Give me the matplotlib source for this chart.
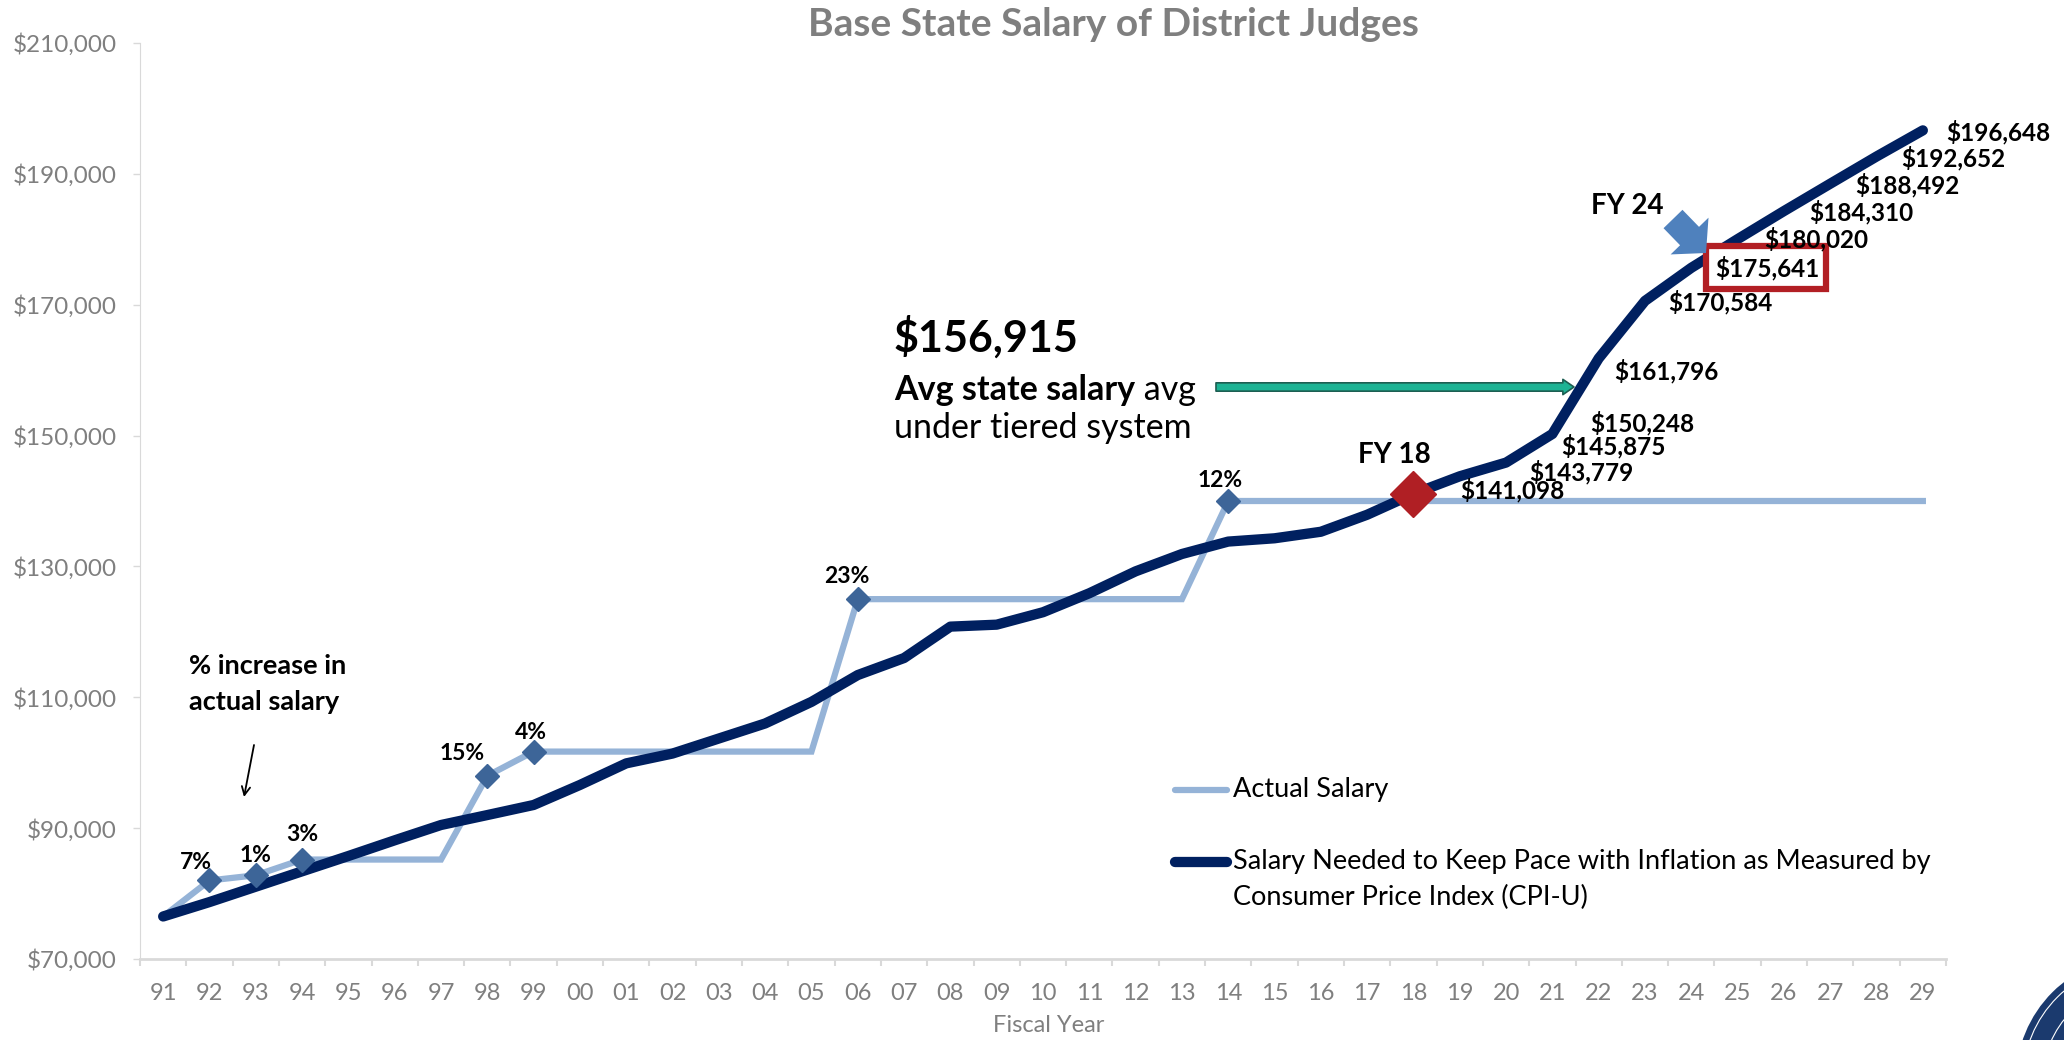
import numpy as np
import matplotlib
matplotlib.use('Agg')
import matplotlib.pyplot as plt
from matplotlib.lines import Line2D
from matplotlib.patches import Rectangle, Circle

plt.rcParams['font.family'] = ['Lato', 'DejaVu Sans']

# ---- data ----
years = ['91', '92', '93', '94', '95', '96', '97', '98', '99',
         '00', '01', '02', '03', '04', '05', '06', '07', '08', '09',
         '10', '11', '12', '13', '14', '15', '16', '17', '18', '19',
         '20', '21', '22', '23', '24', '25', '26', '27', '28', '29']

actual_salary = [76500, 82000, 82800, 85200, 85200, 85200, 85200, 98000, 101700,
                 101700, 101700, 101700, 101700, 101700, 101700, 125000, 125000, 125000, 125000,
                 125000, 125000, 125000, 125000, 140000, 140000, 140000, 140000, 140000, 140000,
                 140000, 140000, 140000, 140000, 140000, 140000, 140000, 140000, 140000, 140000]

cpi_salary = [76500, 78700, 81050, 83400, 85740, 88140, 90480, 92000, 93540,
              96600, 99900, 101400, 103700, 106000, 109300, 113400, 116000, 120800, 121100,
              123000, 125900, 129250, 131900, 133800, 134300, 135300, 137900, 141098, 143779,
              145875, 150248, 161796, 170584, 175641, 180020, 184310, 188492, 192652, 196648]

raise_years = ['92', '93', '94', '98', '99', '06', '14']
raise_pct = ['7%', '1%', '3%', '15%', '4%', '23%', '12%']

labelled_years = ['18', '19', '20', '21', '22', '23', '24', '25', '26', '27', '28', '29']
avg_tiered = 156915

# label offsets in points (dx, dy)
pct_off = [(-10, 13), (0, 14), (0, 18), (-18, 16), (-2, 14), (-8, 16), (-6, 15)]
val_off = [(34, 3), (50, 3), (40, 12), (27, 8), (11, -9), (17, -1),
           (17, 0), (19, 0), (18, -1), (18, -1), (18, -1), (17, -1)]

LIGHT = '#95B3D7'
NAVY = '#002060'
DIAMOND = '#3D6598'
GRAY = '#7F7F7F'

W, H = 2064, 1040
fig = plt.figure(figsize=(W / 100, H / 100), dpi=100)
ax = fig.add_axes([140 / W, 1 - 959 / H, (1946 - 140) / W, (959 - 43) / H])

def fx(x):
    return x / W

def fy(y):
    return 1 - y / H

x = np.arange(len(years))
ax.plot(x, actual_salary, color=LIGHT, lw=4.5, solid_joinstyle='miter', zorder=2)
ax.plot(x, cpi_salary, color=NAVY, lw=7.4, solid_capstyle='round', zorder=3)

idx = [years.index(y) for y in raise_years]
ax.plot(x[idx], [actual_salary[i] for i in idx], ls='none', marker='D',
        ms=12.5, color=DIAMOND, zorder=4)
for i, lab, off in zip(idx, raise_pct, pct_off):
    ax.annotate(lab, (x[i], actual_salary[i]), xytext=off, textcoords='offset points',
                ha='center', va='center', fontsize=16.5, fontweight='bold', color='black')

# FY 18 diamond
i18 = years.index('18')
ax.plot(x[i18], cpi_salary[i18], marker='D', ms=23, color='#B01F24', ls='none', zorder=5)

# value labels for FY18 - FY29
for yr, off in zip(labelled_years, val_off):
    i = years.index(yr)
    ax.annotate('${:,.0f}'.format(cpi_salary[i]), (x[i], cpi_salary[i]), xytext=off,
                textcoords='offset points', ha='left', va='center',
                fontsize=17.5, fontweight='bold', color='black', zorder=7)

# red box around FY24 value
ax.add_patch(Rectangle((fx(1706), fy(289)), (1826 - 1706) / W, (289 - 246) / H,
                       transform=fig.transFigure, fc='white', ec='#B21F24', lw=4.5, zorder=6))

# axes styling
ax.set_xlim(-0.5, len(years) - 0.5)
ax.set_ylim(70000, 210000)
ax.set_yticks(np.arange(70000, 210001, 20000))
ax.set_yticklabels(['${:,.0f}'.format(v) for v in np.arange(70000, 210001, 20000)])
ax.set_xticks(x)
ax.set_xticklabels(years)
ax.set_xticks(np.arange(-0.5, len(years), 1), minor=True)
ax.tick_params(axis='x', which='major', length=0, pad=17, labelsize=17, labelcolor=GRAY)
ax.tick_params(axis='x', which='minor', length=5, width=1.5, color='#D9D9D9')
ax.tick_params(axis='y', length=5, width=1, color='#D9D9D9', pad=12, labelsize=17.5, labelcolor=GRAY)
for s in ['top', 'right']:
    ax.spines[s].set_visible(False)
ax.spines['left'].set_color('#D9D9D9')
ax.spines['bottom'].set_color('#D9D9D9')
ax.spines['bottom'].set_linewidth(2)

fig.text(fx(1049), fy(1025), 'Fiscal Year', ha='center', va='center', fontsize=17, color=GRAY)
fig.text(fx(1113), fy(24), 'Base State Salary of District Judges', ha='center', va='center',
         fontsize=28, fontweight='bold', color=GRAY)

# left note
fig.text(fx(189), fy(666), '% increase in', ha='left', va='center', fontsize=19.5, fontweight='bold')
fig.text(fx(189), fy(702), 'actual salary', ha='left', va='center', fontsize=19.5, fontweight='bold')
ax.annotate('', xy=(244, H - 797), xytext=(254, H - 745), xycoords='figure pixels',
            textcoords='figure pixels',
            arrowprops=dict(arrowstyle='->,head_length=0.6,head_width=0.3', color='black',
                            lw=1.3, shrinkA=0, shrinkB=0))

# average salary callout
fig.text(fx(894), fy(337), '${:,.0f}'.format(avg_tiered), ha='left', va='center',
         fontsize=31, fontweight='bold')
t_bold = fig.text(fx(894), fy(390), 'Avg state salary', ha='left', va='center',
                  fontsize=24.5, fontweight='bold')
fig.canvas.draw()
bb = t_bold.get_window_extent()
fig.text(bb.x1 / W, fy(390), ' avg', ha='left', va='center', fontsize=24.5)
fig.text(fx(894), fy(428), 'under tiered system', ha='left', va='center', fontsize=24.5)
ax.annotate('', xy=(1574, H - 387), xytext=(1216, H - 387), xycoords='figure pixels',
            textcoords='figure pixels',
            arrowprops=dict(arrowstyle='simple,head_length=0.4,head_width=0.55,tail_width=0.3',
                            mutation_scale=20, fc='#1DB394', ec='#1D5E52', lw=1.2,
                            shrinkA=0, shrinkB=0))

# FY markers
fig.text(fx(1394), fy(455), 'FY 18', ha='center', va='center', fontsize=20, fontweight='bold')
fig.text(fx(1627), fy(206), 'FY 24', ha='center', va='center', fontsize=20, fontweight='bold')
ax.annotate('', xy=(1706, H - 253), xytext=(1673, H - 219), xycoords='figure pixels',
            textcoords='figure pixels',
            arrowprops=dict(arrowstyle='simple,head_length=0.85,head_width=1.9,tail_width=0.95',
                            mutation_scale=20, fc='#4F81BD', ec='none',
                            shrinkA=0, shrinkB=0), zorder=8)

# legend (drawn by hand to keep handle level with first text line)
ax.add_line(Line2D([fx(1175), fx(1227)], [fy(790), fy(790)], transform=fig.transFigure,
                   color=LIGHT, lw=4.5, solid_capstyle='round'))
ax.add_line(Line2D([fx(1175), fx(1227)], [fy(862), fy(862)], transform=fig.transFigure,
                   color=NAVY, lw=7.4, solid_capstyle='round'))
fig.text(fx(1233), fy(790), 'Actual Salary', ha='left', va='center', fontsize=19.5)
fig.text(fx(1233), fy(862), 'Salary Needed to Keep Pace with Inflation as Measured by',
         ha='left', va='center', fontsize=19.5)
fig.text(fx(1233), fy(897), 'Consumer Price Index (CPI-U)', ha='left', va='center', fontsize=19.5)

# corner seal
fig.add_artist(Circle((21.40, -0.40), 1.24, transform=fig.dpi_scale_trans,
                      fc='#1B3A6E', ec='none'))
fig.add_artist(Circle((21.40, -0.40), 1.17, transform=fig.dpi_scale_trans,
                      fc='none', ec='white', lw=0.8))
fig.add_artist(Circle((21.40, -0.40), 0.97, transform=fig.dpi_scale_trans,
                      fc='none', ec='white', lw=0.8))

fig.savefig('out.png', dpi=100)
